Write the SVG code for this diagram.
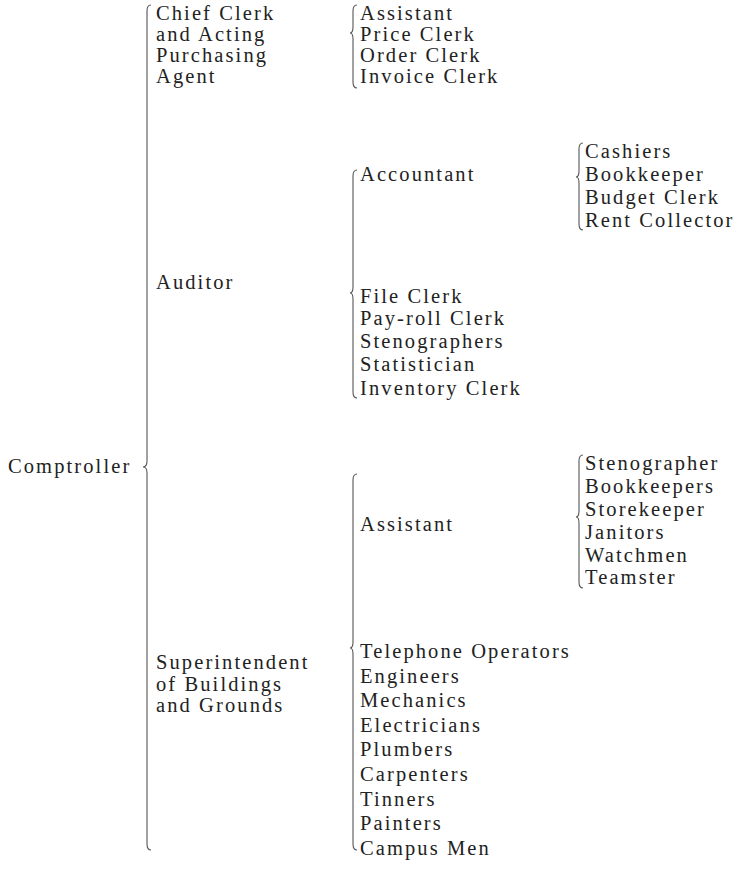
<svg xmlns="http://www.w3.org/2000/svg" width="744" height="877" viewBox="0 0 744 877">
<style>
text{font-family:"Liberation Serif","DejaVu Serif",serif;font-size:20.5px;letter-spacing:2.1px;fill:#222}
.br{fill:none;stroke:#555;stroke-width:1.1}
</style>
<rect width="744" height="877" fill="#fff"/>
<g id="connectors">
<path class="br" d="M151,5 Q147,5 147,11 L147,461 Q147,467 143,467 Q147,467 147,473 L147,844 Q147,850 151,850"/>
<path class="br" d="M357,5 Q353,5 353,11 L353,27 Q353,33 350,33 Q353,33 353,39 L353,82 Q353,88 357,88"/>
<path class="br" d="M357,170 Q353,170 353,176 L353,287 Q353,293 350,293 Q353,293 353,299 L353,392 Q353,398 357,398"/>
<path class="br" d="M583,143 Q579,143 579,149 L579,171 Q579,177 576,177 Q579,177 579,183 L579,224 Q579,230 583,230"/>
<path class="br" d="M357,474 Q353,474 353,480 L353,642 Q353,648 350,648 Q353,648 353,654 L353,844 Q353,850 357,850"/>
<path class="br" d="M583,455 Q579,455 579,461 L579,511 Q579,517 576,517 Q579,517 579,523 L579,582 Q579,588 583,588"/>
</g>
<g id="comptroller"><text x="8" y="473">Comptroller</text></g>
<g id="chief-clerk"><text x="156" y="20">Chief Clerk</text><text x="156" y="41">and Acting</text><text x="156" y="62">Purchasing</text><text x="156" y="83">Agent</text></g>
<g id="auditor"><text x="156" y="289">Auditor</text></g>
<g id="superintendent"><text x="156" y="669">Superintendent</text><text x="156" y="691">of Buildings</text><text x="156" y="712">and Grounds</text></g>
<g id="cc-assistant"><text x="360" y="20">Assistant</text></g>
<g id="price-clerk"><text x="360" y="41">Price Clerk</text></g>
<g id="order-clerk"><text x="360" y="62">Order Clerk</text></g>
<g id="invoice-clerk"><text x="360" y="83">Invoice Clerk</text></g>
<g id="accountant"><text x="360" y="181">Accountant</text></g>
<g id="cashiers"><text x="585" y="158">Cashiers</text></g>
<g id="bookkeeper"><text x="585" y="181">Bookkeeper</text></g>
<g id="budget-clerk"><text x="585" y="204">Budget Clerk</text></g>
<g id="rent-collector"><text x="585" y="227">Rent Collector</text></g>
<g id="file-clerk"><text x="360" y="303">File Clerk</text></g>
<g id="pay-roll-clerk"><text x="360" y="325">Pay-roll Clerk</text></g>
<g id="stenographers"><text x="360" y="348">Stenographers</text></g>
<g id="statistician"><text x="360" y="371">Statistician</text></g>
<g id="inventory-clerk"><text x="360" y="395">Inventory Clerk</text></g>
<g id="sb-assistant"><text x="360" y="531">Assistant</text></g>
<g id="stenographer"><text x="585" y="470">Stenographer</text></g>
<g id="bookkeepers"><text x="585" y="493">Bookkeepers</text></g>
<g id="storekeeper"><text x="585" y="516">Storekeeper</text></g>
<g id="janitors"><text x="585" y="539">Janitors</text></g>
<g id="watchmen"><text x="585" y="562">Watchmen</text></g>
<g id="teamster"><text x="585" y="584">Teamster</text></g>
<g id="telephone-operators"><text x="360" y="658">Telephone Operators</text></g>
<g id="engineers"><text x="360" y="682.6">Engineers</text></g>
<g id="mechanics"><text x="360" y="707.2">Mechanics</text></g>
<g id="electricians"><text x="360" y="731.8">Electricians</text></g>
<g id="plumbers"><text x="360" y="756.4">Plumbers</text></g>
<g id="carpenters"><text x="360" y="781">Carpenters</text></g>
<g id="tinners"><text x="360" y="805.6">Tinners</text></g>
<g id="painters"><text x="360" y="830.2">Painters</text></g>
<g id="campus-men"><text x="360" y="855">Campus Men</text></g>
</svg>
